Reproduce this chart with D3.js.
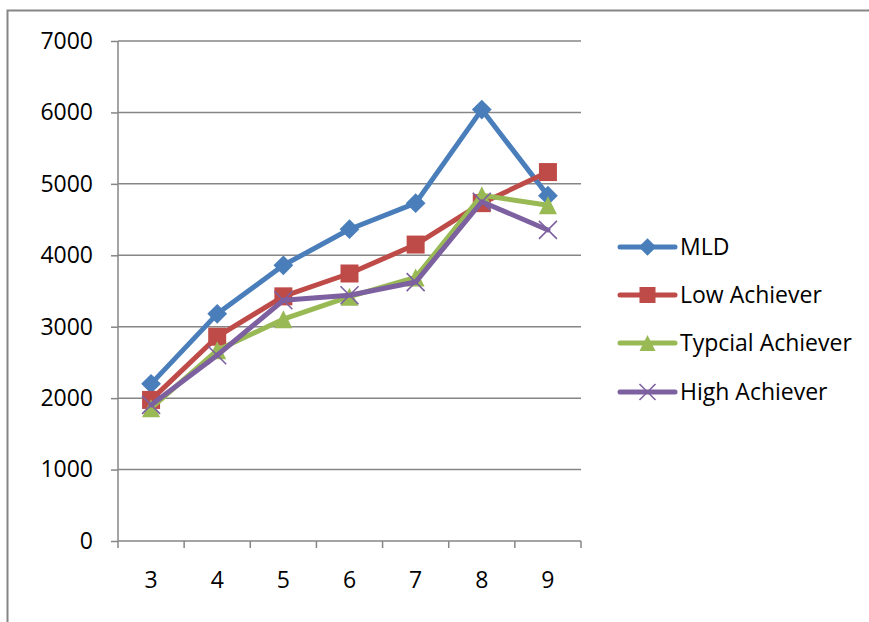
<!DOCTYPE html>
<html><head><meta charset="utf-8">
<script src="https://cdn.jsdelivr.net/npm/d3@7"></script>
<style>body{margin:0;background:#fff}svg{display:block}</style>
</head><body>
<svg id="c" width="869" height="622"></svg>
<script>
const categories = ["3","4","5","6","7","8","9"];
const seriesNames = ["MLD","Low Achiever","Typcial Achiever","High Achiever"];
const mld = [2200,3180,3860,4365,4730,6040,4835];
const low = [1975,2860,3425,3745,4150,4730,5165];
const typical = [1860,2670,3105,3420,3690,4840,4700];
const high = [1905,2600,3370,3440,3625,4750,4355];
const yTicks = [0,1000,2000,3000,4000,5000,6000,7000];
const colors = ["#4A7EBB","#BE4B48","#98B954","#7D60A0"];
const markers = ["diamond","square","triangle","x"];
const values = [mld, low, typical, high];

const svg = d3.select("#c");
const font = "'Open Sans', sans-serif";
const fs = 23;
const grey = "#868686";

// outer frame
svg.append("rect").attr("x",7.5).attr("y",10.5).attr("width",900).attr("height",700)
  .attr("fill","none").attr("stroke",grey).attr("stroke-width",2);

const x = d3.scaleBand().domain(categories).range([118,581]).paddingInner(0).paddingOuter(0);
const y = d3.scaleLinear().domain([0,7000]).range([541,41]);

// gridlines
svg.append("g").selectAll("line").data(yTicks.filter(d=>d>0)).join("line")
  .attr("x1",118).attr("x2",581).attr("y1",d=>y(d)).attr("y2",d=>y(d))
  .attr("stroke",grey).attr("stroke-width",1.5);

// y axis
const ya = svg.append("g").attr("transform","translate(118,0)")
  .call(d3.axisLeft(y).tickValues(yTicks).tickSize(7).tickPadding(18).tickFormat(d3.format("d")));
ya.select(".domain").attr("stroke",grey).attr("stroke-width",1.5).attr("d","M0,41V541");
ya.selectAll(".tick line").attr("stroke",grey).attr("stroke-width",1.5);
ya.selectAll(".tick text").attr("font-family",font).attr("font-size",fs).attr("fill","#000");

// x axis
const xa = svg.append("g").attr("transform","translate(0,541)")
  .call(d3.axisBottom(x).tickSize(0).tickPadding(31));
xa.select(".domain").attr("stroke",grey).attr("stroke-width",1.5).attr("d","M118,0H581");
xa.selectAll(".tick text").attr("font-family",font).attr("font-size",fs).attr("fill","#000");
// boundary ticks
const bounds = categories.map(c=>x(c)).concat([x(categories[categories.length-1])+x.bandwidth()]);
xa.append("g").selectAll("line").data(bounds).join("line")
  .attr("x1",d=>d).attr("x2",d=>d).attr("y1",0).attr("y2",7)
  .attr("stroke",grey).attr("stroke-width",1.5);

function drawMarker(g, type, cx, cy, color, s){
  if(type==="diamond"){
    const r=s*0.55;
    g.append("path").attr("d",`M${cx},${cy-r}L${cx+r},${cy}L${cx},${cy+r}L${cx-r},${cy}Z`).attr("fill",color);
  } else if(type==="square"){
    const r=s/2;
    g.append("rect").attr("x",cx-r).attr("y",cy-r).attr("width",s).attr("height",s).attr("fill",color);
  } else if(type==="triangle"){
    const r=s/2;
    g.append("path").attr("d",`M${cx},${cy-r}L${cx+r},${cy+r}L${cx-r},${cy+r}Z`).attr("fill",color);
  } else {
    const r=s/2;
    g.append("path").attr("d",`M${cx-r},${cy-r}L${cx+r},${cy+r}M${cx+r},${cy-r}L${cx-r},${cy+r}`)
      .attr("stroke",color).attr("stroke-width",1.6).attr("fill","none");
  }
}

const line = d3.line().x((d,i)=>x(categories[i])+x.bandwidth()/2).y(d=>y(d));
values.forEach((vals,k)=>{
  const g = svg.append("g");
  g.append("path").attr("d",line(vals)).attr("fill","none").attr("stroke",colors[k])
    .attr("stroke-width",5).attr("stroke-linejoin","round").attr("stroke-linecap","round");
  vals.forEach((v,i)=>drawMarker(g,markers[k],x(categories[i])+x.bandwidth()/2,y(v),colors[k],18));
});

// legend
const legY = [247,295,343,392];
seriesNames.forEach((name,k)=>{
  const g = svg.append("g");
  g.append("line").attr("x1",620).attr("x2",675).attr("y1",legY[k]).attr("y2",legY[k])
    .attr("stroke",colors[k]).attr("stroke-width",5).attr("stroke-linecap","round");
  drawMarker(g,markers[k],647.5,legY[k],colors[k],16);
  g.append("text").attr("x",680).attr("y",legY[k]).attr("dy","0.35em")
    .attr("font-family",font).attr("font-size",fs).attr("fill","#000").text(name);
});
</script>
</body></html>
